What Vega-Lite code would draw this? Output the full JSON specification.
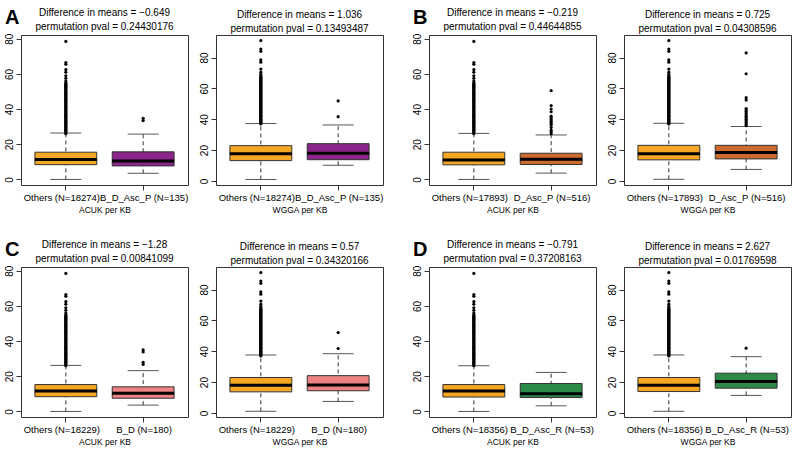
{
"$schema":"https://vega.github.io/schema/vega-lite/v6.json",
"padding":{"left":3,"top":7,"right":0,"bottom":0},
"datasets":{
"stats":[
{"panel":"A1","grp":"Others","lo":0,"q1":8.4,"med":11.4,"q3":15.5,"hi":26.4},
{"panel":"A1","grp":"Case","lo":3.5,"q1":7.7,"med":10.5,"q3":15.7,"hi":25.8},
{"panel":"A2","grp":"Others","lo":1,"q1":13.2,"med":17.7,"q3":22.9,"hi":37.2},
{"panel":"A2","grp":"Case","lo":10.2,"q1":13.8,"med":17.9,"q3":24.2,"hi":36.3},
{"panel":"B1","grp":"Others","lo":0,"q1":8.3,"med":11.1,"q3":15.5,"hi":26.2},
{"panel":"B1","grp":"Case","lo":3.6,"q1":8.5,"med":11.5,"q3":14.9,"hi":25.3},
{"panel":"B2","grp":"Others","lo":1.1,"q1":13.7,"med":17.7,"q3":23.1,"hi":37.4},
{"panel":"B2","grp":"Case","lo":7.5,"q1":14.3,"med":18.4,"q3":23.1,"hi":35.3},
{"panel":"C1","grp":"Others","lo":0,"q1":8.4,"med":11.6,"q3":15.3,"hi":26.2},
{"panel":"C1","grp":"Case","lo":3.6,"q1":7.5,"med":10.3,"q3":14.0,"hi":23.2},
{"panel":"C2","grp":"Others","lo":1.1,"q1":13.7,"med":18,"q3":23,"hi":37.6},
{"panel":"C2","grp":"Case","lo":7.5,"q1":14.4,"med":18.2,"q3":24.2,"hi":38.4},
{"panel":"D1","grp":"Others","lo":0,"q1":8.2,"med":11.6,"q3":15.3,"hi":26},
{"panel":"D1","grp":"Case","lo":3.2,"q1":7.9,"med":10.1,"q3":15.9,"hi":22.2},
{"panel":"D2","grp":"Others","lo":1.1,"q1":13.9,"med":18,"q3":23,"hi":37.6},
{"panel":"D2","grp":"Case","lo":11.4,"q1":16.1,"med":20.4,"q3":25.8,"hi":36.5}
],
"outAcuk":[
{"grp":"Others","v":26},{"grp":"Others","v":26.5},{"grp":"Others","v":27},{"grp":"Others","v":27.5},{"grp":"Others","v":28},{"grp":"Others","v":28.5},{"grp":"Others","v":29},{"grp":"Others","v":29.5},{"grp":"Others","v":30},{"grp":"Others","v":30.5},{"grp":"Others","v":31},{"grp":"Others","v":31.5},{"grp":"Others","v":32},{"grp":"Others","v":32.5},{"grp":"Others","v":33},{"grp":"Others","v":33.5},{"grp":"Others","v":34},{"grp":"Others","v":34.5},{"grp":"Others","v":35},{"grp":"Others","v":35.5},{"grp":"Others","v":36},{"grp":"Others","v":36.5},{"grp":"Others","v":37},{"grp":"Others","v":37.5},{"grp":"Others","v":38},{"grp":"Others","v":38.5},{"grp":"Others","v":39},{"grp":"Others","v":39.5},{"grp":"Others","v":40},{"grp":"Others","v":40.5},{"grp":"Others","v":41},{"grp":"Others","v":41.5},{"grp":"Others","v":42},{"grp":"Others","v":42.5},{"grp":"Others","v":43},{"grp":"Others","v":43.5},{"grp":"Others","v":44},{"grp":"Others","v":44.5},{"grp":"Others","v":45},{"grp":"Others","v":45.5},{"grp":"Others","v":46},{"grp":"Others","v":46.5},{"grp":"Others","v":47},{"grp":"Others","v":47.5},{"grp":"Others","v":48},{"grp":"Others","v":48.5},{"grp":"Others","v":49},{"grp":"Others","v":49.5},{"grp":"Others","v":50},{"grp":"Others","v":50.5},{"grp":"Others","v":51},{"grp":"Others","v":51.5},{"grp":"Others","v":52},{"grp":"Others","v":52.5},{"grp":"Others","v":53},{"grp":"Others","v":53.5},{"grp":"Others","v":54},{"grp":"Others","v":54.5},{"grp":"Others","v":55},{"grp":"Others","v":56},{"grp":"Others","v":57.5},{"grp":"Others","v":59},{"grp":"Others","v":61},{"grp":"Others","v":62.5},{"grp":"Others","v":65.5},{"grp":"Others","v":66.5},{"grp":"Others","v":78.5}
],
"outWgga":[
{"grp":"Others","v":37},{"grp":"Others","v":37.5},{"grp":"Others","v":38},{"grp":"Others","v":38.5},{"grp":"Others","v":39},{"grp":"Others","v":39.5},{"grp":"Others","v":40},{"grp":"Others","v":40.5},{"grp":"Others","v":41},{"grp":"Others","v":41.5},{"grp":"Others","v":42},{"grp":"Others","v":42.5},{"grp":"Others","v":43},{"grp":"Others","v":43.5},{"grp":"Others","v":44},{"grp":"Others","v":44.5},{"grp":"Others","v":45},{"grp":"Others","v":45.5},{"grp":"Others","v":46},{"grp":"Others","v":46.5},{"grp":"Others","v":47},{"grp":"Others","v":47.5},{"grp":"Others","v":48},{"grp":"Others","v":48.5},{"grp":"Others","v":49},{"grp":"Others","v":49.5},{"grp":"Others","v":50},{"grp":"Others","v":50.5},{"grp":"Others","v":51},{"grp":"Others","v":51.5},{"grp":"Others","v":52},{"grp":"Others","v":52.5},{"grp":"Others","v":53},{"grp":"Others","v":53.5},{"grp":"Others","v":54},{"grp":"Others","v":54.5},{"grp":"Others","v":55},{"grp":"Others","v":55.5},{"grp":"Others","v":56},{"grp":"Others","v":56.5},{"grp":"Others","v":57},{"grp":"Others","v":57.5},{"grp":"Others","v":58},{"grp":"Others","v":58.5},{"grp":"Others","v":59},{"grp":"Others","v":59.5},{"grp":"Others","v":60},{"grp":"Others","v":60.5},{"grp":"Others","v":61},{"grp":"Others","v":61.5},{"grp":"Others","v":62},{"grp":"Others","v":62.5},{"grp":"Others","v":63},{"grp":"Others","v":63.5},{"grp":"Others","v":64},{"grp":"Others","v":64.5},{"grp":"Others","v":65},{"grp":"Others","v":65.5},{"grp":"Others","v":66},{"grp":"Others","v":66.5},{"grp":"Others","v":67},{"grp":"Others","v":67.5},{"grp":"Others","v":68},{"grp":"Others","v":69},{"grp":"Others","v":70.5},{"grp":"Others","v":72.5},{"grp":"Others","v":77},{"grp":"Others","v":78.5},{"grp":"Others","v":84},{"grp":"Others","v":85.5},{"grp":"Others","v":91}
],
"outCase":[
{"panel":"A1","grp":"Case","v":33.5},{"panel":"A1","grp":"Case","v":34.8},
{"panel":"A2","grp":"Case","v":41.7},{"panel":"A2","grp":"Case","v":51.9},
{"panel":"B1","grp":"Case","v":26},{"panel":"B1","grp":"Case","v":27},{"panel":"B1","grp":"Case","v":28},{"panel":"B1","grp":"Case","v":29.5},{"panel":"B1","grp":"Case","v":31},{"panel":"B1","grp":"Case","v":32},{"panel":"B1","grp":"Case","v":33},{"panel":"B1","grp":"Case","v":34},{"panel":"B1","grp":"Case","v":35},{"panel":"B1","grp":"Case","v":36},{"panel":"B1","grp":"Case","v":38.5},{"panel":"B1","grp":"Case","v":40},{"panel":"B1","grp":"Case","v":42},{"panel":"B1","grp":"Case","v":50.5},
{"panel":"B2","grp":"Case","v":36},{"panel":"B2","grp":"Case","v":37},{"panel":"B2","grp":"Case","v":38},{"panel":"B2","grp":"Case","v":39},{"panel":"B2","grp":"Case","v":40},{"panel":"B2","grp":"Case","v":41},{"panel":"B2","grp":"Case","v":42},{"panel":"B2","grp":"Case","v":43},{"panel":"B2","grp":"Case","v":44},{"panel":"B2","grp":"Case","v":45},{"panel":"B2","grp":"Case","v":46},{"panel":"B2","grp":"Case","v":47},{"panel":"B2","grp":"Case","v":52.4},{"panel":"B2","grp":"Case","v":54},{"panel":"B2","grp":"Case","v":69.5},{"panel":"B2","grp":"Case","v":83},
{"panel":"C1","grp":"Case","v":26.7},{"panel":"C1","grp":"Case","v":28},{"panel":"C1","grp":"Case","v":33.8},{"panel":"C1","grp":"Case","v":35},
{"panel":"C2","grp":"Case","v":41.8},{"panel":"C2","grp":"Case","v":52.1},
{"panel":"D2","grp":"Case","v":42}
]
},
"vconcat":[
{"hconcat":[
{"title":{"text":"A","orient":"left","angle":0,"anchor":"end","align":"left","baseline":"top","fontSize":20,"fontWeight":"bold","font":"Liberation Sans","offset":0,"dx":16},
 "bounds":"flush","spacing":28,
 "hconcat":[
{"width":167,"height":150,
 "title":{"text":["Difference in means = −0.649","permutation pval = 0.24430176"]},
 "encoding":{"x":{"field":"grp","type":"nominal","scale":{"domain":["Others","Case"],"paddingInner":0.2,"paddingOuter":0.18},"axis":{"title":"ACUK per KB","labelOffset":{"condition":{"test":"datum.value == 'Others'","value":-4},"value":1},"labelExpr":"datum.value == 'Others' ? 'Others (N=18274)' : 'B_D_Asc_P (N=135)'"}}},
 "layer":[
  {"data":{"name":"stats"},"transform":[{"filter":"datum.panel == 'A1'"}],"layer":[
   {"mark":{"type":"rule","strokeDash":[4,3],"color":"#333"},"encoding":{"y":{"field":"lo","type":"quantitative","scale":{"domain":[-3.16,82.16],"nice":false},"axis":{"title":null,"values":[0,20,40,60,80]}},"y2":{"field":"hi"}}},
   {"mark":{"type":"bar","stroke":"#333","strokeWidth":1},"encoding":{"y":{"field":"q1","type":"quantitative","scale":{"domain":[-3.16,82.16],"nice":false},"axis":{"title":null,"values":[0,20,40,60,80]}},"y2":{"field":"q3"},"fill":{"condition":{"test":"datum.grp == 'Others'","value":"#F5A623"},"value":"#8B2589"}}},
   {"mark":{"type":"tick","size":62,"thickness":3,"color":"black","opacity":1},"encoding":{"y":{"field":"med","type":"quantitative","scale":{"domain":[-3.16,82.16],"nice":false},"axis":{"title":null,"values":[0,20,40,60,80]}}}},
   {"mark":{"type":"tick","size":31,"thickness":1,"color":"#555","opacity":1},"encoding":{"y":{"field":"lo","type":"quantitative","scale":{"domain":[-3.16,82.16],"nice":false},"axis":{"title":null,"values":[0,20,40,60,80]}}}},
   {"mark":{"type":"tick","size":31,"thickness":1,"color":"#555","opacity":1},"encoding":{"y":{"field":"hi","type":"quantitative","scale":{"domain":[-3.16,82.16],"nice":false},"axis":{"title":null,"values":[0,20,40,60,80]}}}}
  ]},
  {"data":{"name":"outAcuk"},"mark":{"type":"circle","size":10,"color":"black","opacity":1},"encoding":{"y":{"field":"v","type":"quantitative","scale":{"domain":[-3.16,82.16],"nice":false},"axis":{"title":null,"values":[0,20,40,60,80]}}}},
  {"data":{"name":"outCase"},"transform":[{"filter":"datum.panel == 'A1'"}],"mark":{"type":"circle","size":10,"color":"black","opacity":1},"encoding":{"y":{"field":"v","type":"quantitative","scale":{"domain":[-3.16,82.16],"nice":false},"axis":{"title":null,"values":[0,20,40,60,80]}}}}
 ]},
{"width":167,"height":150,
 "title":{"text":["Difference in means = 1.036","permutation pval = 0.13493487"]},
 "encoding":{"x":{"field":"grp","type":"nominal","scale":{"domain":["Others","Case"],"paddingInner":0.2,"paddingOuter":0.18},"axis":{"title":"WGGA per KB","labelOffset":{"condition":{"test":"datum.value == 'Others'","value":-4},"value":1},"labelExpr":"datum.value == 'Others' ? 'Others (N=18274)' : 'B_D_Asc_P (N=135)'"}}},
 "layer":[
  {"data":{"name":"stats"},"transform":[{"filter":"datum.panel == 'A2'"}],"layer":[
   {"mark":{"type":"rule","strokeDash":[4,3],"color":"#333"},"encoding":{"y":{"field":"lo","type":"quantitative","scale":{"domain":[-2.6,94.6],"nice":false},"axis":{"title":null,"values":[0,20,40,60,80]}},"y2":{"field":"hi"}}},
   {"mark":{"type":"bar","stroke":"#333","strokeWidth":1},"encoding":{"y":{"field":"q1","type":"quantitative","scale":{"domain":[-2.6,94.6],"nice":false},"axis":{"title":null,"values":[0,20,40,60,80]}},"y2":{"field":"q3"},"fill":{"condition":{"test":"datum.grp == 'Others'","value":"#F5A623"},"value":"#8B2589"}}},
   {"mark":{"type":"tick","size":62,"thickness":3,"color":"black","opacity":1},"encoding":{"y":{"field":"med","type":"quantitative","scale":{"domain":[-2.6,94.6],"nice":false},"axis":{"title":null,"values":[0,20,40,60,80]}}}},
   {"mark":{"type":"tick","size":31,"thickness":1,"color":"#555","opacity":1},"encoding":{"y":{"field":"lo","type":"quantitative","scale":{"domain":[-2.6,94.6],"nice":false},"axis":{"title":null,"values":[0,20,40,60,80]}}}},
   {"mark":{"type":"tick","size":31,"thickness":1,"color":"#555","opacity":1},"encoding":{"y":{"field":"hi","type":"quantitative","scale":{"domain":[-2.6,94.6],"nice":false},"axis":{"title":null,"values":[0,20,40,60,80]}}}}
  ]},
  {"data":{"name":"outWgga"},"mark":{"type":"circle","size":10,"color":"black","opacity":1},"encoding":{"y":{"field":"v","type":"quantitative","scale":{"domain":[-2.6,94.6],"nice":false},"axis":{"title":null,"values":[0,20,40,60,80]}}}},
  {"data":{"name":"outCase"},"transform":[{"filter":"datum.panel == 'A2'"}],"mark":{"type":"circle","size":10,"color":"black","opacity":1},"encoding":{"y":{"field":"v","type":"quantitative","scale":{"domain":[-2.6,94.6],"nice":false},"axis":{"title":null,"values":[0,20,40,60,80]}}}}
 ]}
]},
{"title":{"text":"B","orient":"left","angle":0,"anchor":"end","align":"left","baseline":"top","fontSize":20,"fontWeight":"bold","font":"Liberation Sans","offset":0,"dx":16},
 "bounds":"flush","spacing":28,
 "hconcat":[
{"width":167,"height":150,
 "title":{"text":["Difference in means = −0.219","permutation pval = 0.44644855"]},
 "encoding":{"x":{"field":"grp","type":"nominal","scale":{"domain":["Others","Case"],"paddingInner":0.2,"paddingOuter":0.18},"axis":{"title":"ACUK per KB","labelOffset":{"condition":{"test":"datum.value == 'Others'","value":-4},"value":1},"labelExpr":"datum.value == 'Others' ? 'Others (N=17893)' : 'D_Asc_P (N=516)'"}}},
 "layer":[
  {"data":{"name":"stats"},"transform":[{"filter":"datum.panel == 'B1'"}],"layer":[
   {"mark":{"type":"rule","strokeDash":[4,3],"color":"#333"},"encoding":{"y":{"field":"lo","type":"quantitative","scale":{"domain":[-3.16,82.16],"nice":false},"axis":{"title":null,"values":[0,20,40,60,80]}},"y2":{"field":"hi"}}},
   {"mark":{"type":"bar","stroke":"#333","strokeWidth":1},"encoding":{"y":{"field":"q1","type":"quantitative","scale":{"domain":[-3.16,82.16],"nice":false},"axis":{"title":null,"values":[0,20,40,60,80]}},"y2":{"field":"q3"},"fill":{"condition":{"test":"datum.grp == 'Others'","value":"#F5A623"},"value":"#CC6B2C"}}},
   {"mark":{"type":"tick","size":62,"thickness":3,"color":"black","opacity":1},"encoding":{"y":{"field":"med","type":"quantitative","scale":{"domain":[-3.16,82.16],"nice":false},"axis":{"title":null,"values":[0,20,40,60,80]}}}},
   {"mark":{"type":"tick","size":31,"thickness":1,"color":"#555","opacity":1},"encoding":{"y":{"field":"lo","type":"quantitative","scale":{"domain":[-3.16,82.16],"nice":false},"axis":{"title":null,"values":[0,20,40,60,80]}}}},
   {"mark":{"type":"tick","size":31,"thickness":1,"color":"#555","opacity":1},"encoding":{"y":{"field":"hi","type":"quantitative","scale":{"domain":[-3.16,82.16],"nice":false},"axis":{"title":null,"values":[0,20,40,60,80]}}}}
  ]},
  {"data":{"name":"outAcuk"},"mark":{"type":"circle","size":10,"color":"black","opacity":1},"encoding":{"y":{"field":"v","type":"quantitative","scale":{"domain":[-3.16,82.16],"nice":false},"axis":{"title":null,"values":[0,20,40,60,80]}}}},
  {"data":{"name":"outCase"},"transform":[{"filter":"datum.panel == 'B1'"}],"mark":{"type":"circle","size":10,"color":"black","opacity":1},"encoding":{"y":{"field":"v","type":"quantitative","scale":{"domain":[-3.16,82.16],"nice":false},"axis":{"title":null,"values":[0,20,40,60,80]}}}}
 ]},
{"width":167,"height":150,
 "title":{"text":["Difference in means = 0.725","permutation pval = 0.04308596"]},
 "encoding":{"x":{"field":"grp","type":"nominal","scale":{"domain":["Others","Case"],"paddingInner":0.2,"paddingOuter":0.18},"axis":{"title":"WGGA per KB","labelOffset":{"condition":{"test":"datum.value == 'Others'","value":-4},"value":1},"labelExpr":"datum.value == 'Others' ? 'Others (N=17893)' : 'D_Asc_P (N=516)'"}}},
 "layer":[
  {"data":{"name":"stats"},"transform":[{"filter":"datum.panel == 'B2'"}],"layer":[
   {"mark":{"type":"rule","strokeDash":[4,3],"color":"#333"},"encoding":{"y":{"field":"lo","type":"quantitative","scale":{"domain":[-2.6,94.6],"nice":false},"axis":{"title":null,"values":[0,20,40,60,80]}},"y2":{"field":"hi"}}},
   {"mark":{"type":"bar","stroke":"#333","strokeWidth":1},"encoding":{"y":{"field":"q1","type":"quantitative","scale":{"domain":[-2.6,94.6],"nice":false},"axis":{"title":null,"values":[0,20,40,60,80]}},"y2":{"field":"q3"},"fill":{"condition":{"test":"datum.grp == 'Others'","value":"#F5A623"},"value":"#CC6B2C"}}},
   {"mark":{"type":"tick","size":62,"thickness":3,"color":"black","opacity":1},"encoding":{"y":{"field":"med","type":"quantitative","scale":{"domain":[-2.6,94.6],"nice":false},"axis":{"title":null,"values":[0,20,40,60,80]}}}},
   {"mark":{"type":"tick","size":31,"thickness":1,"color":"#555","opacity":1},"encoding":{"y":{"field":"lo","type":"quantitative","scale":{"domain":[-2.6,94.6],"nice":false},"axis":{"title":null,"values":[0,20,40,60,80]}}}},
   {"mark":{"type":"tick","size":31,"thickness":1,"color":"#555","opacity":1},"encoding":{"y":{"field":"hi","type":"quantitative","scale":{"domain":[-2.6,94.6],"nice":false},"axis":{"title":null,"values":[0,20,40,60,80]}}}}
  ]},
  {"data":{"name":"outWgga"},"mark":{"type":"circle","size":10,"color":"black","opacity":1},"encoding":{"y":{"field":"v","type":"quantitative","scale":{"domain":[-2.6,94.6],"nice":false},"axis":{"title":null,"values":[0,20,40,60,80]}}}},
  {"data":{"name":"outCase"},"transform":[{"filter":"datum.panel == 'B2'"}],"mark":{"type":"circle","size":10,"color":"black","opacity":1},"encoding":{"y":{"field":"v","type":"quantitative","scale":{"domain":[-2.6,94.6],"nice":false},"axis":{"title":null,"values":[0,20,40,60,80]}}}}
 ]}
]}
],"spacing":27},
{"hconcat":[
{"title":{"text":"C","orient":"left","angle":0,"anchor":"end","align":"left","baseline":"top","fontSize":20,"fontWeight":"bold","font":"Liberation Sans","offset":0,"dx":16},
 "bounds":"flush","spacing":28,
 "hconcat":[
{"width":167,"height":150,
 "title":{"text":["Difference in means = −1.28","permutation pval = 0.00841099"]},
 "encoding":{"x":{"field":"grp","type":"nominal","scale":{"domain":["Others","Case"],"paddingInner":0.2,"paddingOuter":0.18},"axis":{"title":"ACUK per KB","labelOffset":{"condition":{"test":"datum.value == 'Others'","value":-4},"value":1},"labelExpr":"datum.value == 'Others' ? 'Others (N=18229)' : 'B_D (N=180)'"}}},
 "layer":[
  {"data":{"name":"stats"},"transform":[{"filter":"datum.panel == 'C1'"}],"layer":[
   {"mark":{"type":"rule","strokeDash":[4,3],"color":"#333"},"encoding":{"y":{"field":"lo","type":"quantitative","scale":{"domain":[-3.16,82.16],"nice":false},"axis":{"title":null,"values":[0,20,40,60,80]}},"y2":{"field":"hi"}}},
   {"mark":{"type":"bar","stroke":"#333","strokeWidth":1},"encoding":{"y":{"field":"q1","type":"quantitative","scale":{"domain":[-3.16,82.16],"nice":false},"axis":{"title":null,"values":[0,20,40,60,80]}},"y2":{"field":"q3"},"fill":{"condition":{"test":"datum.grp == 'Others'","value":"#F5A623"},"value":"#EE8282"}}},
   {"mark":{"type":"tick","size":62,"thickness":3,"color":"black","opacity":1},"encoding":{"y":{"field":"med","type":"quantitative","scale":{"domain":[-3.16,82.16],"nice":false},"axis":{"title":null,"values":[0,20,40,60,80]}}}},
   {"mark":{"type":"tick","size":31,"thickness":1,"color":"#555","opacity":1},"encoding":{"y":{"field":"lo","type":"quantitative","scale":{"domain":[-3.16,82.16],"nice":false},"axis":{"title":null,"values":[0,20,40,60,80]}}}},
   {"mark":{"type":"tick","size":31,"thickness":1,"color":"#555","opacity":1},"encoding":{"y":{"field":"hi","type":"quantitative","scale":{"domain":[-3.16,82.16],"nice":false},"axis":{"title":null,"values":[0,20,40,60,80]}}}}
  ]},
  {"data":{"name":"outAcuk"},"mark":{"type":"circle","size":10,"color":"black","opacity":1},"encoding":{"y":{"field":"v","type":"quantitative","scale":{"domain":[-3.16,82.16],"nice":false},"axis":{"title":null,"values":[0,20,40,60,80]}}}},
  {"data":{"name":"outCase"},"transform":[{"filter":"datum.panel == 'C1'"}],"mark":{"type":"circle","size":10,"color":"black","opacity":1},"encoding":{"y":{"field":"v","type":"quantitative","scale":{"domain":[-3.16,82.16],"nice":false},"axis":{"title":null,"values":[0,20,40,60,80]}}}}
 ]},
{"width":167,"height":150,
 "title":{"text":["Difference in means = 0.57","permutation pval = 0.34320166"]},
 "encoding":{"x":{"field":"grp","type":"nominal","scale":{"domain":["Others","Case"],"paddingInner":0.2,"paddingOuter":0.18},"axis":{"title":"WGGA per KB","labelOffset":{"condition":{"test":"datum.value == 'Others'","value":-4},"value":1},"labelExpr":"datum.value == 'Others' ? 'Others (N=18229)' : 'B_D (N=180)'"}}},
 "layer":[
  {"data":{"name":"stats"},"transform":[{"filter":"datum.panel == 'C2'"}],"layer":[
   {"mark":{"type":"rule","strokeDash":[4,3],"color":"#333"},"encoding":{"y":{"field":"lo","type":"quantitative","scale":{"domain":[-2.6,94.6],"nice":false},"axis":{"title":null,"values":[0,20,40,60,80]}},"y2":{"field":"hi"}}},
   {"mark":{"type":"bar","stroke":"#333","strokeWidth":1},"encoding":{"y":{"field":"q1","type":"quantitative","scale":{"domain":[-2.6,94.6],"nice":false},"axis":{"title":null,"values":[0,20,40,60,80]}},"y2":{"field":"q3"},"fill":{"condition":{"test":"datum.grp == 'Others'","value":"#F5A623"},"value":"#EE8282"}}},
   {"mark":{"type":"tick","size":62,"thickness":3,"color":"black","opacity":1},"encoding":{"y":{"field":"med","type":"quantitative","scale":{"domain":[-2.6,94.6],"nice":false},"axis":{"title":null,"values":[0,20,40,60,80]}}}},
   {"mark":{"type":"tick","size":31,"thickness":1,"color":"#555","opacity":1},"encoding":{"y":{"field":"lo","type":"quantitative","scale":{"domain":[-2.6,94.6],"nice":false},"axis":{"title":null,"values":[0,20,40,60,80]}}}},
   {"mark":{"type":"tick","size":31,"thickness":1,"color":"#555","opacity":1},"encoding":{"y":{"field":"hi","type":"quantitative","scale":{"domain":[-2.6,94.6],"nice":false},"axis":{"title":null,"values":[0,20,40,60,80]}}}}
  ]},
  {"data":{"name":"outWgga"},"mark":{"type":"circle","size":10,"color":"black","opacity":1},"encoding":{"y":{"field":"v","type":"quantitative","scale":{"domain":[-2.6,94.6],"nice":false},"axis":{"title":null,"values":[0,20,40,60,80]}}}},
  {"data":{"name":"outCase"},"transform":[{"filter":"datum.panel == 'C2'"}],"mark":{"type":"circle","size":10,"color":"black","opacity":1},"encoding":{"y":{"field":"v","type":"quantitative","scale":{"domain":[-2.6,94.6],"nice":false},"axis":{"title":null,"values":[0,20,40,60,80]}}}}
 ]}
]},
{"title":{"text":"D","orient":"left","angle":0,"anchor":"end","align":"left","baseline":"top","fontSize":20,"fontWeight":"bold","font":"Liberation Sans","offset":0,"dx":16},
 "bounds":"flush","spacing":28,
 "hconcat":[
{"width":167,"height":150,
 "title":{"text":["Difference in means = −0.791","permutation pval = 0.37208163"]},
 "encoding":{"x":{"field":"grp","type":"nominal","scale":{"domain":["Others","Case"],"paddingInner":0.2,"paddingOuter":0.18},"axis":{"title":"ACUK per KB","labelOffset":{"condition":{"test":"datum.value == 'Others'","value":-4},"value":1},"labelExpr":"datum.value == 'Others' ? 'Others (N=18356)' : 'B_D_Asc_R (N=53)'"}}},
 "layer":[
  {"data":{"name":"stats"},"transform":[{"filter":"datum.panel == 'D1'"}],"layer":[
   {"mark":{"type":"rule","strokeDash":[4,3],"color":"#333"},"encoding":{"y":{"field":"lo","type":"quantitative","scale":{"domain":[-3.16,82.16],"nice":false},"axis":{"title":null,"values":[0,20,40,60,80]}},"y2":{"field":"hi"}}},
   {"mark":{"type":"bar","stroke":"#333","strokeWidth":1},"encoding":{"y":{"field":"q1","type":"quantitative","scale":{"domain":[-3.16,82.16],"nice":false},"axis":{"title":null,"values":[0,20,40,60,80]}},"y2":{"field":"q3"},"fill":{"condition":{"test":"datum.grp == 'Others'","value":"#F5A623"},"value":"#2B8A47"}}},
   {"mark":{"type":"tick","size":62,"thickness":3,"color":"black","opacity":1},"encoding":{"y":{"field":"med","type":"quantitative","scale":{"domain":[-3.16,82.16],"nice":false},"axis":{"title":null,"values":[0,20,40,60,80]}}}},
   {"mark":{"type":"tick","size":31,"thickness":1,"color":"#555","opacity":1},"encoding":{"y":{"field":"lo","type":"quantitative","scale":{"domain":[-3.16,82.16],"nice":false},"axis":{"title":null,"values":[0,20,40,60,80]}}}},
   {"mark":{"type":"tick","size":31,"thickness":1,"color":"#555","opacity":1},"encoding":{"y":{"field":"hi","type":"quantitative","scale":{"domain":[-3.16,82.16],"nice":false},"axis":{"title":null,"values":[0,20,40,60,80]}}}}
  ]},
  {"data":{"name":"outAcuk"},"mark":{"type":"circle","size":10,"color":"black","opacity":1},"encoding":{"y":{"field":"v","type":"quantitative","scale":{"domain":[-3.16,82.16],"nice":false},"axis":{"title":null,"values":[0,20,40,60,80]}}}},
  {"data":{"name":"outCase"},"transform":[{"filter":"datum.panel == 'D1'"}],"mark":{"type":"circle","size":10,"color":"black","opacity":1},"encoding":{"y":{"field":"v","type":"quantitative","scale":{"domain":[-3.16,82.16],"nice":false},"axis":{"title":null,"values":[0,20,40,60,80]}}}}
 ]},
{"width":167,"height":150,
 "title":{"text":["Difference in means = 2.627","permutation pval = 0.01769598"]},
 "encoding":{"x":{"field":"grp","type":"nominal","scale":{"domain":["Others","Case"],"paddingInner":0.2,"paddingOuter":0.18},"axis":{"title":"WGGA per KB","labelOffset":{"condition":{"test":"datum.value == 'Others'","value":-4},"value":1},"labelExpr":"datum.value == 'Others' ? 'Others (N=18356)' : 'B_D_Asc_R (N=53)'"}}},
 "layer":[
  {"data":{"name":"stats"},"transform":[{"filter":"datum.panel == 'D2'"}],"layer":[
   {"mark":{"type":"rule","strokeDash":[4,3],"color":"#333"},"encoding":{"y":{"field":"lo","type":"quantitative","scale":{"domain":[-2.6,94.6],"nice":false},"axis":{"title":null,"values":[0,20,40,60,80]}},"y2":{"field":"hi"}}},
   {"mark":{"type":"bar","stroke":"#333","strokeWidth":1},"encoding":{"y":{"field":"q1","type":"quantitative","scale":{"domain":[-2.6,94.6],"nice":false},"axis":{"title":null,"values":[0,20,40,60,80]}},"y2":{"field":"q3"},"fill":{"condition":{"test":"datum.grp == 'Others'","value":"#F5A623"},"value":"#2B8A47"}}},
   {"mark":{"type":"tick","size":62,"thickness":3,"color":"black","opacity":1},"encoding":{"y":{"field":"med","type":"quantitative","scale":{"domain":[-2.6,94.6],"nice":false},"axis":{"title":null,"values":[0,20,40,60,80]}}}},
   {"mark":{"type":"tick","size":31,"thickness":1,"color":"#555","opacity":1},"encoding":{"y":{"field":"lo","type":"quantitative","scale":{"domain":[-2.6,94.6],"nice":false},"axis":{"title":null,"values":[0,20,40,60,80]}}}},
   {"mark":{"type":"tick","size":31,"thickness":1,"color":"#555","opacity":1},"encoding":{"y":{"field":"hi","type":"quantitative","scale":{"domain":[-2.6,94.6],"nice":false},"axis":{"title":null,"values":[0,20,40,60,80]}}}}
  ]},
  {"data":{"name":"outWgga"},"mark":{"type":"circle","size":10,"color":"black","opacity":1},"encoding":{"y":{"field":"v","type":"quantitative","scale":{"domain":[-2.6,94.6],"nice":false},"axis":{"title":null,"values":[0,20,40,60,80]}}}},
  {"data":{"name":"outCase"},"transform":[{"filter":"datum.panel == 'D2'"}],"mark":{"type":"circle","size":10,"color":"black","opacity":1},"encoding":{"y":{"field":"v","type":"quantitative","scale":{"domain":[-2.6,94.6],"nice":false},"axis":{"title":null,"values":[0,20,40,60,80]}}}}
 ]}
]}
],"spacing":27}
],
"spacing":24,
"config":{
 "font":"Liberation Sans",
 "view":{"stroke":"#333","strokeWidth":1},
 "axis":{"grid":false,"domain":false,"tickColor":"#333","tickSize":5,"labelFontSize":10,"labelColor":"black","labelFont":"Liberation Sans","titleFont":"Liberation Sans","titleFontWeight":"normal","titleFontSize":8.5,"titleColor":"black","labelPadding":2},
 "axisX":{"labelAngle":0,"titlePadding":4,"labelFontSize":9.5},
 "axisY":{"labelAngle":-90,"labelAlign":"center","labelBaseline":"bottom"},
 "title":{"fontSize":10,"fontWeight":"normal","font":"Liberation Sans","lineHeight":14,"offset":1,"color":"black"}
}
}
